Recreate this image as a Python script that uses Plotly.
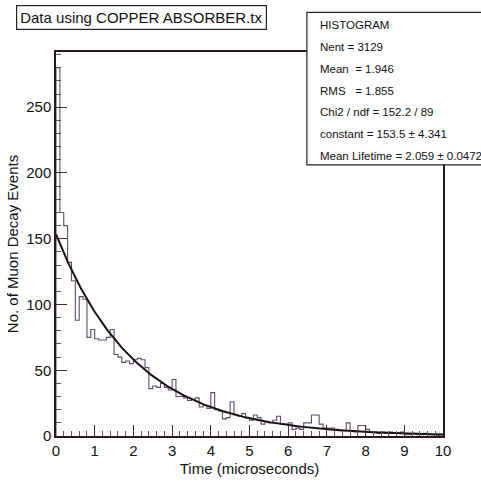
import numpy as np
import plotly.graph_objects as go

# ---- data ----
bin_width = 0.1
counts = [280, 170, 160, 132, 118, 88, 106, 104, 75, 81,
          74, 73, 73, 75, 81, 62, 60, 56, 57, 55,
          58, 59, 58, 52, 36, 38, 37, 40, 37, 35,
          43, 30, 30, 29, 27, 28, 29, 22, 23, 21,
          33, 20, 19, 13, 14, 26, 16, 15, 17, 14,
          12, 16, 14, 9, 11, 10, 12, 15, 9, 9,
          10, 5, 6, 5, 10, 10, 16, 16, 9, 6,
          6, 6, 5, 4, 4, 10, 4, 3, 8, 8,
          5, 3, 3, 2, 3, 2, 3, 2, 2, 3,
          1, 1, 2, 1, 1, 2, 1, 1, 0, 1]
fit_constant = 153.5
fit_lifetime = 2.059
x_ticks = [0, 1, 2, 3, 4, 5, 6, 7, 8, 9, 10]
y_ticks = [0, 50, 100, 150, 200, 250]
title_text = "Data using COPPER ABSORBER.tx"
stats_lines = ["HISTOGRAM", "Nent = 3129", "Mean  = 1.946", "RMS   = 1.855",
               "Chi2 / ndf = 152.2 / 89", "constant = 153.5 \u00b1 4.341",
               "Mean Lifetime = 2.059 \u00b1 0.0472"]

# ---- build histogram outline (step) ----
n = len(counts)
edges = np.arange(n + 1) * bin_width
hx = np.concatenate([[0.0], edges])
hy = np.concatenate([[0.0], counts, [counts[-1]]])

tf = np.linspace(0, 10, 300)
yf = fit_constant * np.exp(-tf / fit_lifetime)

fig = go.Figure()
fig.add_trace(go.Scatter(x=hx, y=hy, mode="lines", line_shape="hv",
                         line=dict(color="#5e4e6c", width=1.1), hoverinfo="skip"))
fig.add_trace(go.Scatter(x=tf, y=yf, mode="lines",
                         line=dict(color="#1a1010", width=2), hoverinfo="skip"))

font_main = "Liberation Sans, Arial, sans-serif"
fig.update_layout(
    width=481, height=487,
    margin=dict(l=45, r=38, t=52, b=47),
    paper_bgcolor="white", plot_bgcolor="white",
    showlegend=False,
    font=dict(family=font_main, color="#111", size=14),
)
fig.update_xaxes(range=[0, 10], tickvals=x_ticks, ticks="inside", ticklen=11,
                 tickcolor="#333", showgrid=False, zeroline=False,
                 showline=True, linecolor="#2a1a1a", linewidth=1.5, mirror=True,
                 minor=dict(ticks="inside", ticklen=5, dtick=0.2, tickcolor="#555", showgrid=False),
                 tickfont=dict(size=15),
                 title=dict(text="Time (microseconds)", font=dict(size=15), standoff=6))
fig.update_yaxes(range=[0, 292], tickvals=y_ticks, ticks="inside", ticklen=11,
                 tickcolor="#333", showgrid=False, zeroline=False,
                 showline=True, linecolor="#2a1a1a", linewidth=1.5, mirror=True,
                 minor=dict(ticks="inside", ticklen=5, dtick=10, tickcolor="#555", showgrid=False),
                 tickfont=dict(size=15),
                 title=dict(text="No. of Muon Decay Events", font=dict(size=15), standoff=4))

# plot-area geometry in pixels for placing boxes
L, R, T, B = 45, 443, 52, 440
def px(xp):
    return (xp - L) / (R - L)
def py(yp):
    return (B - yp) / (B - T)

# title box
fig.add_annotation(xref="paper", yref="paper", x=px(4), y=py(5),
                   xanchor="left", yanchor="top", showarrow=False,
                   text=title_text, font=dict(size=15, color="#111"),
                   bordercolor="#222", borderwidth=1.2, borderpad=3,
                   bgcolor="white", align="left")

# stats box
fig.add_shape(type="rect", xref="paper", yref="paper",
              x0=px(303), x1=px(490), y0=py(166), y1=py(12),
              line=dict(color="#222", width=1.2), fillcolor="white", layer="above")
for i, s in enumerate(stats_lines):
    fig.add_annotation(xref="paper", yref="paper", x=px(314), y=py(25 + i * 22),
                       xanchor="left", yanchor="middle", showarrow=False,
                       text=s, font=dict(size=11.5, color="#111"))

fig.write_html("out.html")
